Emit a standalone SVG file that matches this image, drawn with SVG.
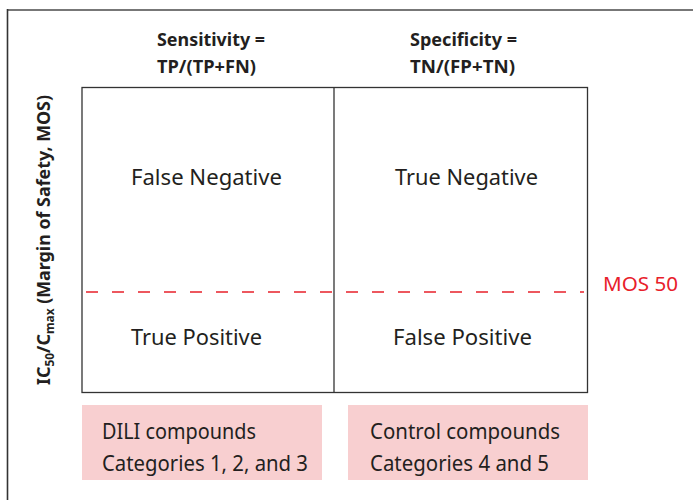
<svg xmlns="http://www.w3.org/2000/svg" width="693" height="500" viewBox="0 0 693 500">
<style>
.t{font-family:"Noto Sans","Open Sans","Liberation Sans",sans-serif;fill:#231f20}
.h{font-size:18px;font-weight:bold}
.q{font-size:21.5px}
.p{font-size:21px}
.grid{fill:none;stroke:#333;stroke-width:1.3}
.pink{fill:#f8cfd0}
</style>
<rect width="693" height="500" fill="#fff"/>
<g id="frame">
<line x1="7" y1="10" x2="693" y2="10" stroke="#777" stroke-width="2"/>
<line x1="7.5" y1="9" x2="7.5" y2="500" stroke="#333" stroke-width="1.6"/>
</g>
<g id="headers">
<text class="t h" x="157" y="46" textLength="108" lengthAdjust="spacingAndGlyphs">Sensitivity =</text>
<text class="t h" x="157" y="73" textLength="99" lengthAdjust="spacingAndGlyphs">TP/(TP+FN)</text>
<text class="t h" x="410" y="46" textLength="107" lengthAdjust="spacingAndGlyphs">Specificity =</text>
<text class="t h" x="410" y="73" textLength="105" lengthAdjust="spacingAndGlyphs">TN/(FP+TN)</text>
</g>
<g id="ylabel">
<text class="t h" font-size="19" transform="translate(50,240) rotate(-90)" text-anchor="middle" textLength="290" lengthAdjust="spacingAndGlyphs">IC<tspan font-size="12" dy="4">50</tspan><tspan dy="-4">/C</tspan><tspan font-size="12" dy="4">max</tspan><tspan dy="-4"> (Margin of Safety, MOS)</tspan></text>
</g>
<g id="matrix">
<rect class="grid" x="82" y="87.5" width="505.5" height="305"/>
<line class="grid" x1="334" y1="87.5" x2="334" y2="392.5"/>
</g>
<g id="quadrant-fn"><text class="t q" x="131" y="185" textLength="151" lengthAdjust="spacingAndGlyphs">False Negative</text></g>
<g id="quadrant-tn"><text class="t q" x="395" y="185" textLength="143" lengthAdjust="spacingAndGlyphs">True Negative</text></g>
<g id="quadrant-tp"><text class="t q" x="131" y="345" textLength="131" lengthAdjust="spacingAndGlyphs">True Positive</text></g>
<g id="quadrant-fp"><text class="t q" x="393" y="345" textLength="139" lengthAdjust="spacingAndGlyphs">False Positive</text></g>
<g id="threshold">
<line x1="86" y1="292" x2="584" y2="292" stroke="#e8202a" stroke-width="1.6" stroke-dasharray="12 14"/>
<text x="603" y="291" font-family="Noto Sans,Open Sans,sans-serif" font-size="20" fill="#e8202a" textLength="75" lengthAdjust="spacingAndGlyphs">MOS 50</text>
</g>
<g id="dili">
<rect class="pink" x="82" y="405" width="240" height="75"/>
<text class="t p" x="102" y="439" textLength="154" lengthAdjust="spacingAndGlyphs">DILI compounds</text>
<text class="t p" x="102" y="471" textLength="206" lengthAdjust="spacingAndGlyphs">Categories 1, 2, and 3</text>
</g>
<g id="control">
<rect class="pink" x="348" y="405" width="240" height="75"/>
<text class="t p" x="370" y="439" textLength="190" lengthAdjust="spacingAndGlyphs">Control compounds</text>
<text class="t p" x="370" y="471" textLength="179" lengthAdjust="spacingAndGlyphs">Categories 4 and 5</text>
</g>
</svg>
